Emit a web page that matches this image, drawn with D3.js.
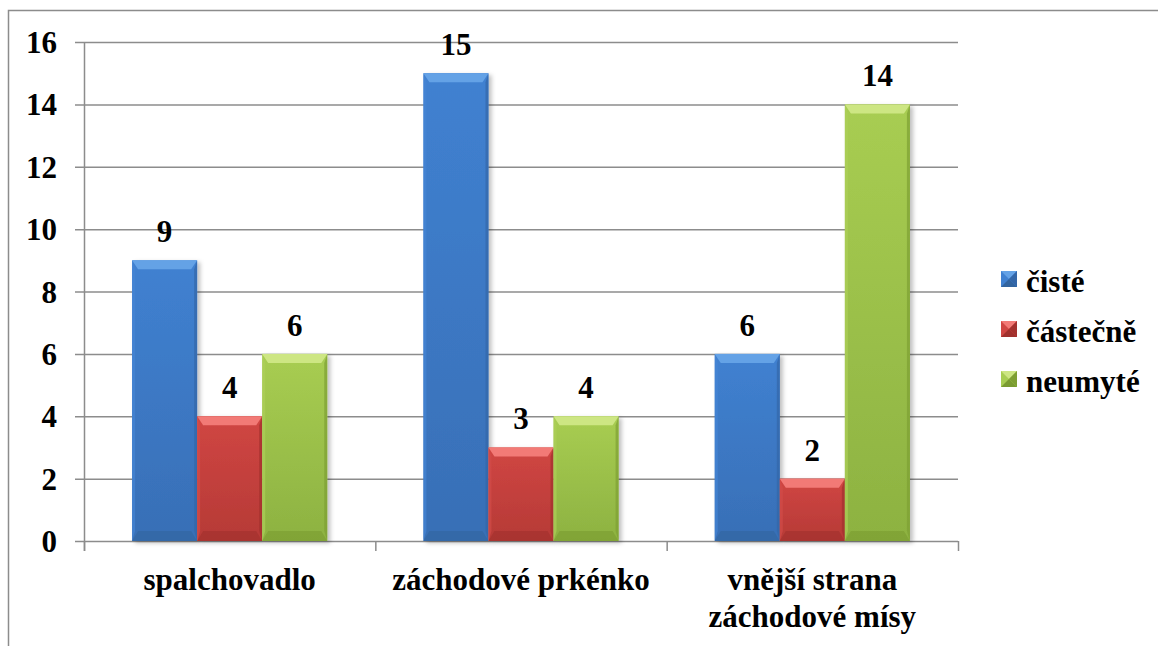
<!DOCTYPE html>
<html>
<head>
<meta charset="utf-8">
<script src="https://cdn.jsdelivr.net/npm/d3@7"></script>
</head>
<body style="margin:0">
<svg id="s" width="1158" height="646" style="font-family:'Liberation Serif';font-weight:bold"></svg>
<script>
const categories = [["spalchovadlo"], ["záchodové prkénko"], ["vnější strana", "záchodové mísy"]];
const seriesNames = ["čisté", "částečně", "neumyté"];
const cisteValues = [9, 15, 6];
const castecneValues = [4, 3, 2];
const neumyteValues = [6, 4, 14];
const yTicks = [0, 2, 4, 6, 8, 10, 12, 14, 16];

const seriesValues = [cisteValues, castecneValues, neumyteValues];
const palette = [
  {face:"#4081d1", faceDark:"#386fb6", top:"#64a2e6", bottom:"#32649f", left:"#4585d4", right:"#3366a8"},
  {face:"#d04643", faceDark:"#b63a36", top:"#f27a76", bottom:"#a0302d", left:"#d24b48", right:"#a3312e"},
  {face:"#a8cd52", faceDark:"#8db241", top:"#cde683", bottom:"#7a9b31", left:"#accf58", right:"#7e9f33"}
];

const svg = d3.select("#s");
const W = 1158, H = 646;
const plot = {left:84, right:958, top:42, bottom:541};

svg.append("path").attr("d", `M8.5,${H} L8.5,10.5 L${W},10.5`)
  .attr("fill","none").attr("stroke","#8c8c8c").attr("stroke-width",1.5);

const catIdx = categories.map((d,i)=>i);
const x0 = d3.scaleBand().domain(catIdx).range([plot.left, plot.right]).paddingInner(0.33).paddingOuter(0.165);
const x1 = d3.scaleBand().domain([0,1,2]).range([0, x0.bandwidth()]).padding(0);
const y = d3.scaleLinear().domain([0,16]).range([plot.bottom, plot.top]);

const defs = svg.append("defs");
const f = defs.append("filter").attr("id","shadow").attr("x","-20%").attr("y","-5%").attr("width","140%").attr("height","115%");
f.append("feDropShadow").attr("dx",3).attr("dy",2).attr("stdDeviation",2).attr("flood-color","#000").attr("flood-opacity",0.25);

palette.forEach((p,i)=>{
  const g = defs.append("linearGradient").attr("id","face"+i).attr("x1",0).attr("y1",0).attr("x2",0).attr("y2",1);
  g.append("stop").attr("offset","0%").attr("stop-color",p.face);
  g.append("stop").attr("offset","100%").attr("stop-color",p.faceDark);
});

svg.append("g").selectAll("line").data(yTicks).join("line")
  .attr("x1", plot.left-9).attr("x2", plot.right)
  .attr("y1", d=>y(d)+0.5).attr("y2", d=>y(d)+0.5)
  .attr("stroke","#8c8c8c").attr("stroke-width",1.5);

svg.append("line").attr("x1",plot.left+0.5).attr("x2",plot.left+0.5)
  .attr("y1",plot.top).attr("y2",plot.bottom+10)
  .attr("stroke","#8c8c8c").attr("stroke-width",1.5);

const step = x0.step();
const bounds = d3.range(categories.length+1).map(i=>plot.left + i*step);
svg.append("g").selectAll("line").data(bounds).join("line")
  .attr("x1",d=>d+0.5).attr("x2",d=>d+0.5)
  .attr("y1",plot.bottom).attr("y2",plot.bottom+10)
  .attr("stroke","#8c8c8c").attr("stroke-width",1.5);

function txt(sel){ return sel.style("font-family","Times New Roman").style("font-weight","bold").style("font-size","31px"); }

svg.append("g").selectAll("text").data(yTicks).join("text")
  .attr("x",57).attr("y",d=>y(d)+11)
  .attr("text-anchor","end").call(txt).text(d=>d);

const bars = [];
catIdx.forEach(ci=>{
  seriesValues.forEach((vals,si)=>{
    bars.push({ci, si, v: vals[ci]});
  });
});

const bg = svg.append("g");
bars.forEach(b=>{
  const p = palette[b.si];
  const x = x0(b.ci) + x1(b.si);
  const w = x1.bandwidth();
  const yt = y(b.v);
  const h = y(0) - yt;
  const bx = 6, sx = 3, byT = 9, byB = 10;
  const g = bg.append("g");
  g.append("rect").attr("x",x).attr("y",yt).attr("width",w).attr("height",h)
    .attr("fill","url(#face"+b.si+")").attr("filter","url(#shadow)");
  g.append("path").attr("d",`M${x},${yt} L${x+sx},${yt+byT} L${x+sx},${yt+h-byB} L${x},${yt+h} Z`).attr("fill",p.left).attr("opacity",0.7);
  g.append("path").attr("d",`M${x+w},${yt} L${x+w-sx},${yt+byT} L${x+w-sx},${yt+h-byB} L${x+w},${yt+h} Z`).attr("fill",p.right).attr("opacity",0.7);
  g.append("path").attr("d",`M${x},${yt} L${x+w},${yt} L${x+w-bx},${yt+byT} L${x+bx},${yt+byT} Z`).attr("fill",p.top);
  g.append("path").attr("d",`M${x},${yt+h} L${x+w},${yt+h} L${x+w-bx},${yt+h-byB} L${x+bx},${yt+h-byB} Z`).attr("fill",p.bottom).attr("opacity",0.6);
  svg.append("text").attr("x", x + w/2).attr("y", yt - 18)
    .attr("text-anchor","middle").call(txt).text(b.v);
});

const cl = svg.append("g");
categories.forEach((lines,ci)=>{
  const cx = x0(ci) + x0.bandwidth()/2;
  lines.forEach((ln,li)=>{
    cl.append("text").attr("x",cx).attr("y",590 + li*37)
      .attr("text-anchor","middle").call(txt).text(ln);
  });
});

const lg = svg.append("g");
seriesNames.forEach((name,i)=>{
  const p = palette[i];
  const by = 292 + i*50;
  const sx = 1001, sy = by-21, s = 16;
  lg.append("rect").attr("x",sx).attr("y",sy).attr("width",s).attr("height",s).attr("fill",p.face);
  const c = s/2;
  lg.append("path").attr("d",`M${sx},${sy} L${sx+s},${sy} L${sx+c},${sy+c} Z`).attr("fill",p.top);
  lg.append("path").attr("d",`M${sx},${sy+s} L${sx+s},${sy+s} L${sx+c},${sy+c} Z`).attr("fill",p.bottom);
  lg.append("path").attr("d",`M${sx+s},${sy} L${sx+s},${sy+s} L${sx+c},${sy+c} Z`).attr("fill",p.right);
  lg.append("text").attr("x",1026).attr("y",by).call(txt).text(name);
});
</script>
</body>
</html>
